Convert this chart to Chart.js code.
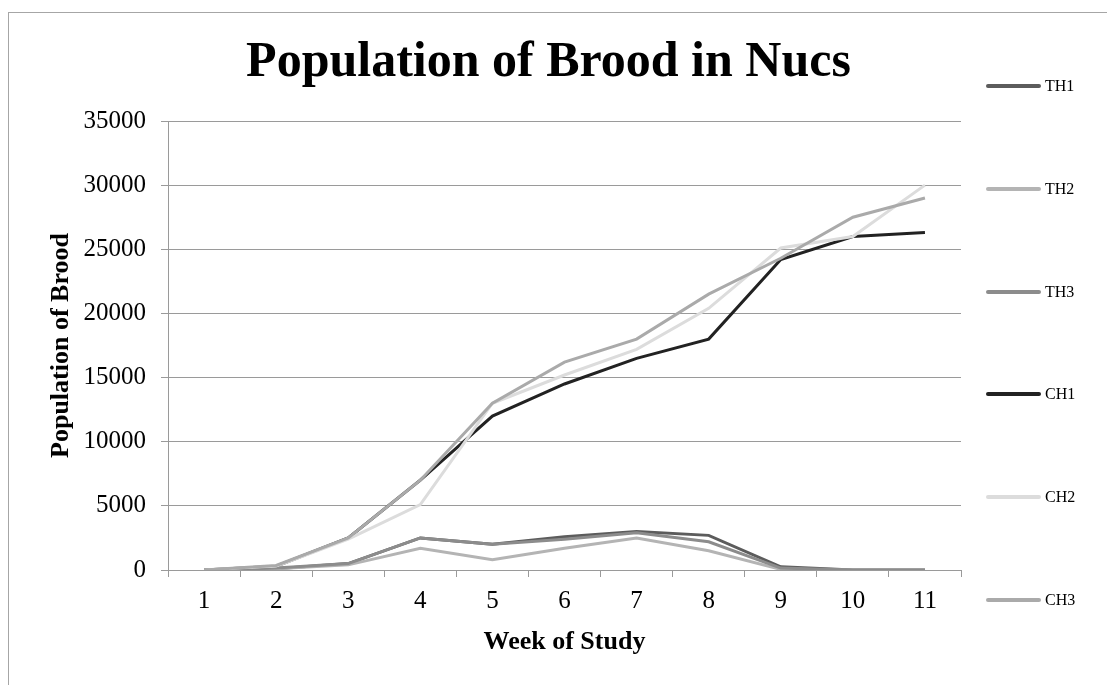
<!DOCTYPE html>
<html lang="en">
<head>
<meta charset="utf-8">
<title>Population of Brood in Nucs</title>
<script src="https://cdn.jsdelivr.net/npm/chart.js@4.4.1/dist/chart.umd.min.js"></script>
<style>
  html, body { margin: 0; padding: 0; background: #fff; }
  #wrap { width: 1107px; height: 685px; }
</style>
</head>
<body>
<div id="wrap"><canvas id="chartBrood" width="1107" height="685"></canvas></div>
<script>
'use strict';

/* ========================================================
   Data
   ======================================================== */
const weeks = ['1', '2', '3', '4', '5', '6', '7', '8', '9', '10', '11'];
const yTicks = [0, 5000, 10000, 15000, 20000, 25000, 30000, 35000];

const th1 = [0, 100, 500, 2500, 2000, 2600, 3000, 2700, 250, 0, 0];
const th2 = [0, 100, 400, 1700, 800, 1700, 2500, 1500, 50, 0, 0];
const th3 = [0, 150, 500, 2500, 2000, 2400, 2900, 2200, 150, 0, 0];
const ch1 = [0, 300, 2500, 7000, 12000, 14500, 16500, 18000, 24200, 26000, 26300];
const ch2 = [0, 300, 2400, 5100, 13000, 15200, 17200, 20400, 25100, 26000, 30000];
const ch3 = [0, 350, 2500, 7000, 13000, 16200, 18000, 21500, 24300, 27500, 29000];

const SERIF = "'Liberation Serif', 'Times New Roman', serif";
const GRID = '#9a9a9a';

/* ========================================================
   Plugins: white page + frame, legend on the right
   ======================================================== */
const pageFrame = {
  id: 'pageFrame',
  beforeDraw(chart) {
    const { ctx, width, height } = chart;
    ctx.save();
    ctx.fillStyle = '#fff';
    ctx.fillRect(0, 0, width, height);
    ctx.strokeStyle = '#a6a6a6';
    ctx.lineWidth = 1;
    ctx.strokeRect(8.5, 12.5, width + 50, height + 50);
    ctx.restore();
  }
};

// Excel puts the legend in its own column, one entry every ~103px
const sideLegend = {
  id: 'sideLegend',
  afterDraw(chart) {
    const { ctx } = chart;
    const top = 86, step = 102.8;
    ctx.save();
    ctx.font = '16px ' + SERIF;
    ctx.textBaseline = 'middle';
    ctx.fillStyle = '#000';
    chart.data.datasets.forEach((ds, i) => {
      const y = Math.round(top + i * step);
      ctx.strokeStyle = ds.borderColor;
      ctx.lineWidth = 4;
      ctx.lineCap = 'round';
      ctx.beginPath();
      ctx.moveTo(988, y);
      ctx.lineTo(1039, y);
      ctx.stroke();
      ctx.fillText(ds.label, 1045, y + 1);
    });
    ctx.restore();
  }
};

/* ========================================================
   Line chart
   ======================================================== */
(function initChart() {
  const ctx = document.getElementById('chartBrood');
  if (!ctx) return;

  const line = (label, data, color, order) => ({
    label, data,
    borderColor: color,
    backgroundColor: color,
    borderWidth: 3,
    pointRadius: 0,
    tension: 0,
    fill: false,
    order,
  });

  new Chart(ctx, {
    type: 'line',
    data: {
      labels: weeks,
      datasets: [
        line('TH1', th1, '#5c5c5c', 6),
        line('TH2', th2, '#b4b4b4', 5),
        line('TH3', th3, '#8c8c8c', 4),
        line('CH1', ch1, '#222222', 3),
        line('CH2', ch2, '#dcdcdc', 2),
        line('CH3', ch3, '#aaaaaa', 1),
      ]
    },
    options: {
      responsive: false,
      animation: false,
      devicePixelRatio: 1,
      layout: { padding: { top: 12, left: 10, right: 20, bottom: 0 } },
      plugins: {
        legend: { display: false },
        tooltip: { enabled: false },
        title: {
          display: true,
          text: 'Population of Brood in Nucs',
          color: '#000',
          font: { family: SERIF, size: 50, weight: 'bold', lineHeight: 1.2 },
          padding: { top: 21, bottom: 28 }
        }
      },
      scales: {
        x: {
          offset: true,
          grid: { display: true, drawOnChartArea: false, drawTicks: true, tickLength: 7, color: GRID, offset: true },
          border: { color: GRID, width: 1 },
          ticks: { color: '#000', font: { family: SERIF, size: 25 }, padding: 9, maxRotation: 0 },
          title: {
            display: true,
            text: 'Week of Study',
            color: '#000',
            font: { family: SERIF, size: 26, weight: 'bold', lineHeight: 1.2 },
            padding: { top: 0, bottom: 27 }
          },
          afterFit: s => { s.height = 115; }
        },
        y: {
          min: 0,
          max: 35000,
          afterBuildTicks: s => { s.ticks = yTicks.map(v => ({ value: v })); },
          grid: { color: GRID, lineWidth: 1, drawTicks: true, tickLength: 7 },
          border: { color: GRID, width: 1 },
          ticks: { color: '#000', font: { family: SERIF, size: 25 }, padding: 15, callback: v => String(v) },
          title: {
            display: true,
            text: 'Population of Brood',
            color: '#000',
            font: { family: SERIF, size: 26, weight: 'bold', lineHeight: 1.2 },
            padding: { top: 36, bottom: 0 }
          },
          afterFit: s => { s.width = 158; }
        },
        // empty right-hand column that holds the legend space
        legendSpace: {
          type: 'linear',
          position: 'right',
          display: true,
          grid: { display: false, drawTicks: false },
          border: { display: false },
          ticks: { display: false },
          afterFit: s => { s.width = 126; }
        }
      }
    },
    plugins: [pageFrame, sideLegend]
  });
})();
</script>
</body>
</html>
